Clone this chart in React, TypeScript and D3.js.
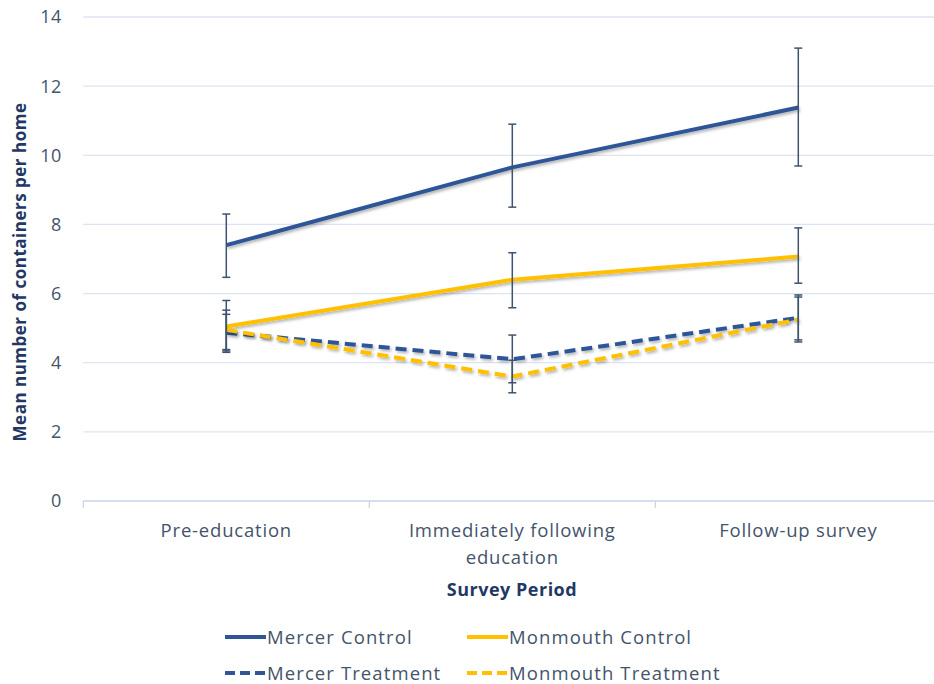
import React from "react";
import * as d3 from "d3";

const periods = ["Pre-education", "Immediately following education", "Follow-up survey"];
const periodLines = [["Pre-education"], ["Immediately following", "education"], ["Follow-up survey"]];

const seriesNames = ["Mercer Control", "Monmouth Control", "Mercer Treatment", "Monmouth Treatment"];
const mercerControl = [7.4, 9.65, 11.38];
const monmouthControl = [5.05, 6.4, 7.07];
const mercerTreatment = [4.87, 4.1, 5.3];
const monmouthTreatment = [4.95, 3.6, 5.25];

// error bar bounds [low, high] per period
const mercerControlErr = [[6.47, 8.3], [8.5, 10.9], [9.69, 13.1]];
const monmouthControlErr = [[4.3, 5.8], [5.59, 7.18], [6.3, 7.9]];
const mercerTreatmentErr = [[4.34, 5.4], [3.42, 4.8], [4.66, 5.96]];
const monmouthTreatmentErr = [[4.38, 5.52], [3.13, 4.07], [4.6, 5.9]];

const yTicks = [0, 2, 4, 6, 8, 10, 12, 14];

const W = 934;
const H = 684;
const left = 83.3;
const right = 941.3;
const top = 17;
const bottom = 501;

const BLUE = "#2F5597";
const GOLD = "#FFC000";
const ERR = "#3E5370";
const TEXT = "#44546A";
const TITLE = "#1F3864";
const FONT = "'Open Sans', 'Noto Sans', sans-serif";

const series = [
  { name: seriesNames[0], values: mercerControl, err: mercerControlErr, color: BLUE, dash: "" },
  { name: seriesNames[1], values: monmouthControl, err: monmouthControlErr, color: GOLD, dash: "" },
  { name: seriesNames[2], values: mercerTreatment, err: mercerTreatmentErr, color: BLUE, dash: "11 6" },
  { name: seriesNames[3], values: monmouthTreatment, err: monmouthTreatmentErr, color: GOLD, dash: "11 6" },
];

export default function App() {
  const x = d3.scaleBand<string>().domain(periods).range([left, right]).padding(0);
  const y = d3.scaleLinear().domain([0, 14]).range([bottom, top]);
  const cx = (i: number) => (x(periods[i]) as number) + x.bandwidth() / 2;

  const line = d3
    .line<number>()
    .x((_, i) => cx(i))
    .y((v) => y(v));

  const bandEdges = periods.map((p) => x(p) as number).concat([right]);

  const legend = [
    { s: series[0], lx: 225, ly: 637 },
    { s: series[1], lx: 467, ly: 637 },
    { s: series[2], lx: 225, ly: 673 },
    { s: series[3], lx: 467, ly: 673 },
  ];

  return (
    <svg
      width={W}
      height={H}
      style={{ position: "absolute", left: 0, top: 0, background: "#fff" }}
      fontFamily={FONT}
    >
      <defs>
        <filter id="shadow" x="-10%" y="-50%" width="120%" height="200%">
          <feDropShadow dx="1.5" dy="2" stdDeviation="1.6" floodColor="#000" floodOpacity="0.3" />
        </filter>
      </defs>
      <rect width={W} height={H} fill="#fff" />

      {/* gridlines */}
      {yTicks.map((t) => (
        <line
          key={t}
          x1={left}
          x2={right}
          y1={y(t)}
          y2={y(t)}
          stroke={t === 0 ? "#C9D4EA" : "#DCE3F2"}
          strokeWidth={1.3}
        />
      ))}
      {/* category boundary ticks */}
      {bandEdges.map((e, i) => (
        <line key={i} x1={e} x2={e} y1={bottom} y2={bottom + 7} stroke="#C9D4EA" strokeWidth={1.3} />
      ))}

      {/* y tick labels */}
      {yTicks.map((t) => (
        <text
          key={t}
          x={62}
          y={y(t)}
          dy="0.36em"
          textAnchor="end"
          fontSize={18}
          letterSpacing={0.6}
          fill={TEXT}
        >
          {t}
        </text>
      ))}

      {/* category labels */}
      {periodLines.map((lines, i) => (
        <text
          key={i}
          x={cx(i)}
          y={537}
          textAnchor="middle"
          fontSize={18.5}
          letterSpacing={0.8}
          fill={TEXT}
        >
          {lines.map((l, j) => (
            <tspan key={j} x={cx(i)} dy={j === 0 ? 0 : 27}>
              {l}
            </tspan>
          ))}
        </text>
      ))}

      {/* axis titles */}
      <text
        x={512}
        y={596}
        textAnchor="middle"
        fontSize={18}
        letterSpacing={0.5}
        fontWeight="bold"
        fill={TITLE}
      >
        Survey Period
      </text>
      <text
        transform={`translate(26, ${(top + bottom) / 2 + 13}) rotate(-90)`}
        textAnchor="middle"
        fontSize={17}
        letterSpacing={0.5}
        fontWeight="bold"
        fill={TITLE}
      >
        Mean number of containers per home
      </text>

      {/* series lines */}
      {series.map((s) => (
        <path
          key={s.name}
          d={line(s.values) as string}
          fill="none"
          stroke={s.color}
          strokeWidth={4}
          strokeDasharray={s.dash || undefined}
          strokeLinejoin="round"
          filter="url(#shadow)"
        />
      ))}

      {/* error bars */}
      {series.map((s) =>
        s.err.map(([lo, hi], i) => (
          <g key={s.name + i} stroke={ERR} strokeWidth={1.5}>
            <line x1={cx(i)} x2={cx(i)} y1={y(lo)} y2={y(hi)} />
            <line x1={cx(i) - 4} x2={cx(i) + 4} y1={y(lo)} y2={y(lo)} />
            <line x1={cx(i) - 4} x2={cx(i) + 4} y1={y(hi)} y2={y(hi)} />
          </g>
        ))
      )}

      {/* legend */}
      {legend.map(({ s, lx, ly }) => (
        <g key={s.name}>
          <line
            x1={lx}
            x2={lx + 41}
            y1={ly}
            y2={ly}
            stroke={s.color}
            strokeWidth={4}
            strokeDasharray={s.dash ? "10 5" : undefined}
          />
          <text x={lx + 42} y={ly} dy="0.36em" fontSize={18.5} letterSpacing={1.1} fill={TEXT}>
            {s.name}
          </text>
        </g>
      ))}
    </svg>
  );
}
